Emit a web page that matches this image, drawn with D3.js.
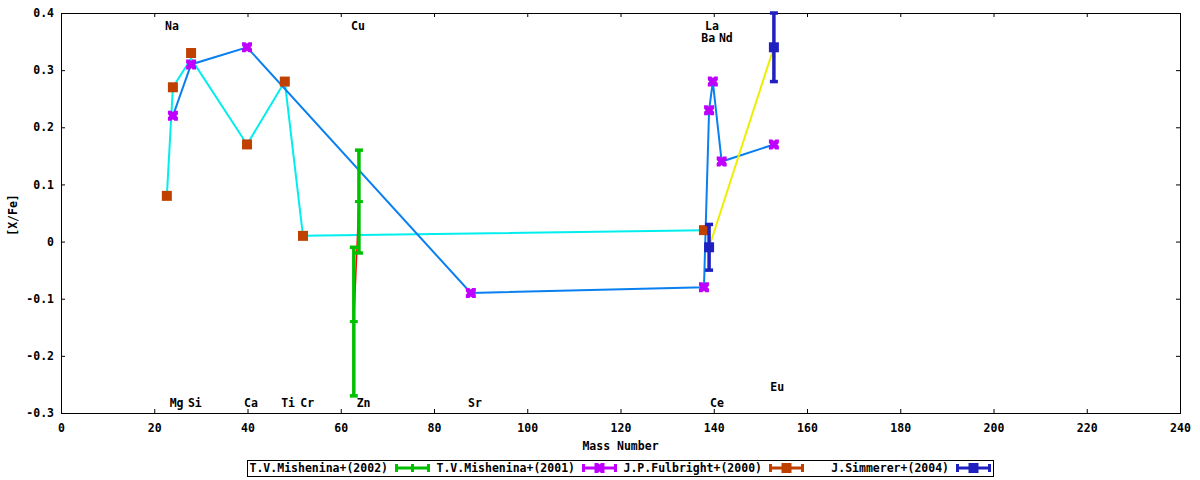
<!DOCTYPE html>
<html>
<head>
<meta charset="utf-8">
<script src="https://cdn.jsdelivr.net/npm/d3@7"></script>
<style>
  body { margin: 0; background: #fff; }
  text { font-family: "DejaVu Sans Mono", monospace; font-size: 11.5px; font-weight: bold; fill: #000; }
</style>
</head>
<body>
<script>
    //T.V.Mishenina+(2002) - green error bars
    var mish02Mass = [63.9, 62.8];
    var mish02Val = [0.07, -0.14];
    var mish02Err = [0.09, 0.13];

    //T.V.Mishenina+(2001) - purple
    var mish01Mass = [24.0, 27.9, 39.9, 87.9, 137.9, 139.0, 139.8, 141.7, 152.9];
    var mish01Val = [0.22, 0.31, 0.34, -0.09, -0.08, 0.23, 0.28, 0.14, 0.17];

    //J.P.Fulbright+(2000) - orange
    var fulMass = [22.7, 24.0, 27.9, 39.9, 48.0, 51.9, 137.9];
    var fulVal = [0.08, 0.27, 0.33, 0.17, 0.28, 0.01, 0.02];

    //cyan connecting line (follows Fulbright)
    var cyanMass = [22.7, 24.0, 27.9, 39.9, 48.0, 51.9, 137.9];
    var cyanVal = [0.08, 0.27, 0.32, 0.17, 0.28, 0.01, 0.02];

    //J.Simmerer+(2004) - dark blue
    var simMass = [139.0, 152.9];
    var simVal = [-0.01, 0.34];
    var simErr = [0.04, 0.06];

    //element labels
    var elemNames = ["Na", "Cu", "La", "Ba", "Nd", "Mg", "Si", "Ca", "Ti", "Cr", "Zn", "Sr", "Ce", "Eu"];
    var elemX = [23.8, 63.7, 139.6, 138.8, 142.6, 24.8, 28.7, 40.75, 48.7, 52.8, 64.9, 88.8, 140.7, 153.6];
    var elemY = [0.377, 0.377, 0.377, 0.356, 0.356, -0.282, -0.282, -0.282, -0.282, -0.282, -0.282, -0.282, -0.282, -0.254];

    //ticks
    var xTicks = [0, 20, 40, 60, 80, 100, 120, 140, 160, 180, 200, 220, 240];
    var xTickLabels = ["0", "20", "40", "60", "80", "100", "120", "140", "160", "180", "200", "220", "240"];
    var yTicks = [-0.3, -0.2, -0.1, 0, 0.1, 0.2, 0.3, 0.4];
    var yTickLabels = ["-0.3", "-0.2", "-0.1", "0", "0.1", "0.2", "0.3", "0.4"];

    var legendNames = ["T.V.Mishenina+(2002)", "T.V.Mishenina+(2001)", "J.P.Fulbright+(2000)", "J.Simmerer+(2004)"];

    var width = 1200;
    var height = 480;
    var margin = { left: 61, right: 20, top: 13, bottom: 67 };

    var colors = {
        green: "#00c000", purple: "#c000ff", orange: "#c04000", navy: "#2020c0",
        cyan: "#00eeee", blue: "#0a80f0", yellow: "#eeee00", red: "#ff0000"
    };

    var x = d3.scaleLinear().domain([0, 240]).range([margin.left, width - margin.right]);
    var y = d3.scaleLinear().domain([-0.3, 0.4]).range([height - margin.bottom, margin.top]);

    var svg = d3.select("body").append("svg")
        .attr("width", width)
        .attr("height", height);

    //axes with inward ticks, mirrored on top and right
    var fmtX = function (d) { return xTickLabels[xTicks.indexOf(d)]; };
    var fmtY = function (d) { return yTickLabels[yTicks.indexOf(d)]; };

    svg.append("g")
        .attr("transform", "translate(0," + (height - margin.bottom) + ")")
        .call(d3.axisBottom(x).tickValues(xTicks).tickFormat(fmtX).tickSize(-4).tickSizeOuter(0).tickPadding(11));
    svg.append("g")
        .attr("transform", "translate(0," + margin.top + ")")
        .call(d3.axisTop(x).tickValues(xTicks).tickFormat("").tickSize(-4).tickSizeOuter(0));
    svg.append("g")
        .attr("transform", "translate(" + margin.left + ",0)")
        .call(d3.axisLeft(y).tickValues(yTicks).tickFormat(fmtY).tickSize(-4).tickSizeOuter(0).tickPadding(7));
    svg.append("g")
        .attr("transform", "translate(" + (width - margin.right) + ",0)")
        .call(d3.axisRight(y).tickValues(yTicks).tickFormat("").tickSize(-4).tickSizeOuter(0));

    svg.selectAll(".domain").remove();
    svg.selectAll(".tick line").attr("stroke", "#000");

    //frame
    svg.append("rect")
        .attr("x", margin.left + 0.5)
        .attr("y", margin.top + 0.5)
        .attr("width", width - margin.left - margin.right)
        .attr("height", height - margin.top - margin.bottom)
        .attr("fill", "none")
        .attr("stroke", "#000")
        .attr("stroke-width", 1);

    //axis titles
    svg.append("text")
        .attr("x", (margin.left + width - margin.right) / 2)
        .attr("y", 446)
        .attr("dy", "0.35em")
        .attr("text-anchor", "middle")
        .text("Mass Number");
    svg.append("text")
        .attr("transform", "translate(13,215) rotate(-90)")
        .attr("dy", "0.35em")
        .attr("text-anchor", "middle")
        .text("[X/Fe]");

    //element labels
    svg.selectAll(".elem")
        .data(elemNames)
        .enter()
        .append("text")
        .attr("class", "elem")
        .attr("x", function (d, i) { return x(elemX[i]); })
        .attr("y", function (d, i) { return y(elemY[i]); })
        .attr("dy", "0.35em")
        .attr("text-anchor", "middle")
        .text(function (d) { return d; });

    //connecting lines
    function drawLine(xs, ys, color, w) {
        var line = d3.line()
            .x(function (d) { return x(xs[d]); })
            .y(function (d) { return y(ys[d]); });
        svg.append("path")
            .datum(d3.range(xs.length))
            .attr("d", line)
            .attr("fill", "none")
            .attr("stroke", color)
            .attr("stroke-width", w);
    }
    drawLine(cyanMass, cyanVal, colors.cyan, 2);
    drawLine(mish01Mass, mish01Val, colors.blue, 2);
    drawLine(simMass, simVal, colors.yellow, 2);
    drawLine(mish02Mass, mish02Val, colors.red, 1.5);

    //error bar helper
    function errorBars(xs, ys, es, color) {
        var g = svg.append("g").attr("stroke", color).attr("stroke-width", 3.5);
        xs.forEach(function (m, i) {
            var cx = x(m);
            var lo = y(ys[i] - es[i]);
            var hi = y(ys[i] + es[i]);
            g.append("line").attr("x1", cx).attr("x2", cx).attr("y1", lo).attr("y2", hi);
            g.append("line").attr("x1", cx - 4).attr("x2", cx + 4).attr("y1", lo).attr("y2", lo);
            g.append("line").attr("x1", cx - 4).attr("x2", cx + 4).attr("y1", hi).attr("y2", hi);
        });
    }

    //green: Mishenina 2002
    errorBars(mish02Mass, mish02Val, mish02Err, colors.green);
    svg.append("g").attr("stroke", colors.green).attr("stroke-width", 3)
        .selectAll("line")
        .data(mish02Mass)
        .enter()
        .append("line")
        .attr("x1", function (d) { return x(d) - 4; })
        .attr("x2", function (d) { return x(d) + 4; })
        .attr("y1", function (d, i) { return y(mish02Val[i]); })
        .attr("y2", function (d, i) { return y(mish02Val[i]); });

    //purple: Mishenina 2001 (square with notched sides)
    var xMark = "M-5,-5L-1.5,-5L0,-3.5L1.5,-5L5,-5L5,-1.5L3.5,0L5,1.5L5,5L1.5,5L0,3.5L-1.5,5L-5,5L-5,1.5L-3.5,0L-5,-1.5Z";
    svg.append("g")
        .selectAll("path")
        .data(mish01Mass)
        .enter()
        .append("path")
        .attr("d", xMark)
        .attr("fill", colors.purple)
        .attr("transform", function (d, i) { return "translate(" + x(d) + "," + y(mish01Val[i]) + ")"; });

    //orange: Fulbright
    svg.append("g")
        .selectAll("rect")
        .data(fulMass)
        .enter()
        .append("rect")
        .attr("x", function (d) { return x(d) - 5; })
        .attr("y", function (d, i) { return y(fulVal[i]) - 5; })
        .attr("width", 10)
        .attr("height", 10)
        .attr("fill", colors.orange);

    //dark blue: Simmerer
    errorBars(simMass, simVal, simErr, colors.navy);
    svg.append("g")
        .selectAll("rect")
        .data(simMass)
        .enter()
        .append("rect")
        .attr("x", function (d) { return x(d) - 5; })
        .attr("y", function (d, i) { return y(simVal[i]) - 5; })
        .attr("width", 10)
        .attr("height", 10)
        .attr("fill", colors.navy);

    //legend
    var legend = svg.append("g");
    legend.append("rect")
        .attr("x", 247.5).attr("y", 460.5)
        .attr("width", 746).attr("height", 16)
        .attr("fill", "none").attr("stroke", "#000");
    var legColors = [colors.green, colors.purple, colors.orange, colors.navy];
    legendNames.forEach(function (name, i) {
        var sx = 395 + i * 187;
        var ly = 468;
        legend.append("text")
            .attr("x", sx - 7).attr("y", ly).attr("dy", "0.35em")
            .attr("text-anchor", "end")
            .text(name);
        var g = legend.append("g").attr("stroke", legColors[i]).attr("stroke-width", 3);
        g.append("line").attr("x1", sx).attr("x2", sx + 35).attr("y1", ly).attr("y2", ly);
        g.append("line").attr("x1", sx + 1.5).attr("x2", sx + 1.5).attr("y1", ly - 4).attr("y2", ly + 4);
        g.append("line").attr("x1", sx + 33.5).attr("x2", sx + 33.5).attr("y1", ly - 4).attr("y2", ly + 4);
        var mx = sx + 17.5;
        if (i === 0) {
            g.append("line").attr("x1", mx).attr("x2", mx).attr("y1", ly - 4).attr("y2", ly + 4);
        } else if (i === 1) {
            legend.append("path").attr("d", xMark).attr("fill", legColors[i])
                .attr("transform", "translate(" + mx + "," + ly + ")");
        } else {
            legend.append("rect").attr("x", mx - 5).attr("y", ly - 5)
                .attr("width", 10).attr("height", 10).attr("fill", legColors[i]);
        }
    });
</script>
</body>
</html>
